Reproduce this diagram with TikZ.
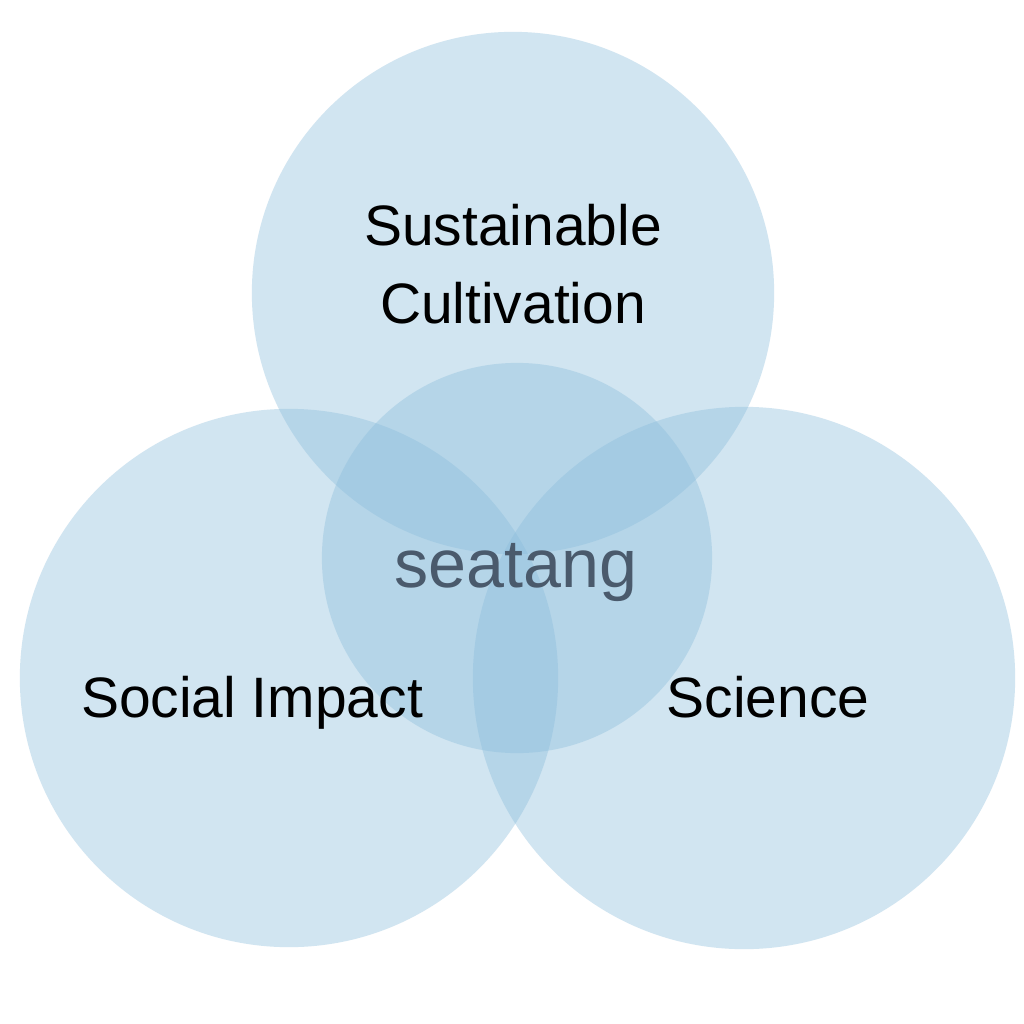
\documentclass[tikz,border=0pt]{standalone}
\usepackage{fontspec}
\setmainfont{Liberation Sans}
\definecolor{vennfill}{RGB}{140,190,220}
\definecolor{coretext}{RGB}{74,90,108}
\tikzset{
  venn/.style={circle, fill=vennfill, fill opacity=0.4, draw=none, inner sep=0pt},
  lbl/.style={font=\fontsize{16.2}{22}\selectfont, text=black, anchor=base, inner sep=0pt},
  corelbl/.style={font=\fontsize{19.4}{24}\selectfont, text=coretext, anchor=base, inner sep=0pt}
}
\begin{document}
\begin{tikzpicture}[x=0.01cm,y=-0.01cm]
\useasboundingbox[fill=white] (0,0) rectangle (1024,1024);
\node[venn, minimum size=5.22cm] (top) at (513,293) {};
\node[venn, minimum size=5.38cm] (left) at (289,678) {};
\node[venn, minimum size=5.42cm] (right) at (744,678) {};
\node[venn, minimum size=3.90cm] (core) at (517,558) {};
\node[lbl] (t1) at (513,245) {Sustainable};
\node[lbl] (t2) at (513,323) {Cultivation};
\node[lbl] (l1) at (252,717) {Social Impact};
\node[lbl] (r1) at (768,717) {Science};
\node[corelbl] (c1) at (516,587) {seatang};
\end{tikzpicture}
\end{document}
